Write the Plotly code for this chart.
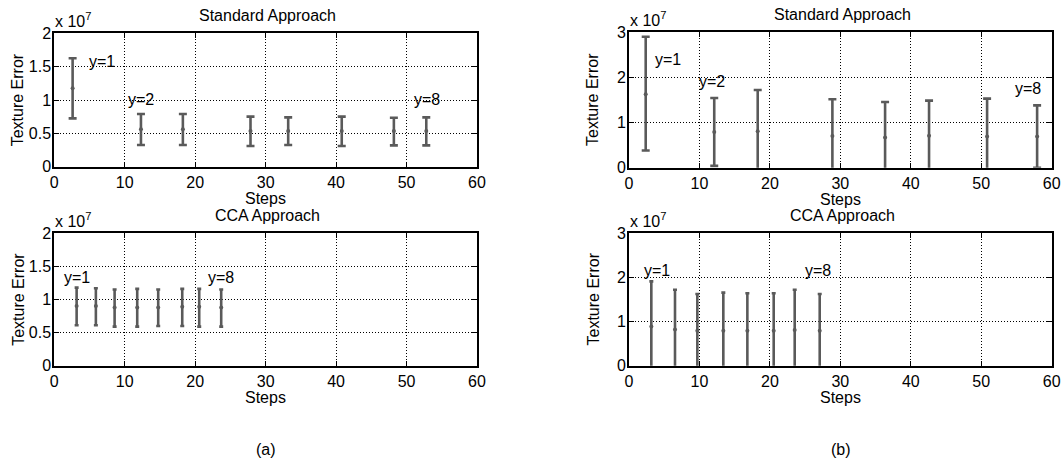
import plotly.graph_objects as go

W, H = 1061, 463
FONT = "Liberation Sans, Arial, sans-serif"

# ---------------- data (values in units of 1e7) ----------------
# (a) Standard approach
a_std_steps = [2.6, 12.3, 18.25, 27.85, 33.2, 40.8, 48.2, 52.8]
a_std_mean = [1.175, 0.56, 0.56, 0.535, 0.535, 0.535, 0.535, 0.535]
a_std_upper = [1.625, 0.79, 0.79, 0.75, 0.74, 0.75, 0.735, 0.74]
a_std_lower = [0.725, 0.325, 0.325, 0.31, 0.325, 0.31, 0.32, 0.32]

# (a) CCA approach
a_cca_steps = [3.17, 5.9, 8.56, 11.77, 14.75, 18.16, 20.57, 23.69]
a_cca_mean = [0.90, 0.90, 0.88, 0.88, 0.88, 0.89, 0.89, 0.88]
a_cca_upper = [1.18, 1.17, 1.15, 1.16, 1.15, 1.16, 1.16, 1.15]
a_cca_lower = [0.61, 0.61, 0.59, 0.59, 0.60, 0.60, 0.59, 0.59]

# (b) Standard approach
b_std_steps = [2.37, 12.1, 18.27, 28.87, 36.35, 42.59, 50.83, 57.93]
b_std_mean = [1.63, 0.79, 0.81, 0.70, 0.67, 0.71, 0.69, 0.69]
b_std_upper = [2.90, 1.545, 1.72, 1.515, 1.456, 1.486, 1.53, 1.38]
b_std_lower = [0.38, 0.04, -0.10, -0.12, -0.12, -0.07, -0.15, 0.0]

# (b) CCA approach
b_cca_steps = [3.17, 6.53, 9.70, 13.39, 16.8, 20.54, 23.52, 27.07]
b_cca_mean = [0.89, 0.82, 0.79, 0.79, 0.79, 0.79, 0.81, 0.79]
b_cca_upper = [1.91, 1.72, 1.625, 1.655, 1.64, 1.64, 1.72, 1.625]
b_cca_lower = [-0.13, -0.08, -0.05, -0.08, -0.06, -0.06, -0.10, -0.05]

# labels
a_std_labels = [("y=1", 6.7, 1.575), ("y=2", 12.3, 1.01), ("y=8", 52.9, 1.01)]
a_cca_labels = [("y=1", 3.26, 1.335), ("y=8", 23.7, 1.335)]
b_std_labels = [("y=1", 5.54, 2.39), ("y=2", 11.83, 1.91), ("y=8", 56.7, 1.76)]
b_cca_labels = [("y=1", 3.93, 2.15), ("y=8", 26.8, 2.15)]

x_ticks = [0, 10, 20, 30, 40, 50, 60]
a_y_ticks = [0, 0.5, 1, 1.5, 2]
a_y_text = ["0", "0.5", "1", "1.5", "2"]
b_y_ticks = [0, 1, 2, 3]
b_y_text = ["0", "1", "2", "3"]

titles = ["Standard Approach", "CCA Approach"]
x_title = "Steps"
y_title = "Texture Error"
panel_labels = ["(a)", "(b)"]

# ---------------- layout helpers ----------------
def px_x(p):
    return p / W

def px_y(p):
    return 1 - p / H

# panel pixel boxes: (left, right, top, bottom)
boxes = {
    1: (54.3, 477.0, 33.3, 166.7),   # a std
    2: (54.3, 477.0, 233.3, 365.7),  # a cca
    3: (629.0, 1051.7, 32.3, 167.7), # b std
    4: (629.0, 1051.7, 233.3, 365.7) # b cca
}

panels = [
    (1, a_std_steps, a_std_mean, a_std_upper, a_std_lower, a_std_labels, a_y_ticks, a_y_text, 2, 4),
    (2, a_cca_steps, a_cca_mean, a_cca_upper, a_cca_lower, a_cca_labels, a_y_ticks, a_y_text, 2, 2),
    (3, b_std_steps, b_std_mean, b_std_upper, b_std_lower, b_std_labels, b_y_ticks, b_y_text, 3, 4),
    (4, b_cca_steps, b_cca_mean, b_cca_upper, b_cca_lower, b_cca_labels, b_y_ticks, b_y_text, 3, 2),
]

fig = go.Figure()
annotations = []
layout = {}
BAR = "#5a5a5a"
TXT = dict(family=FONT, size=16, color="black")


def ann(text, x, y, xref="paper", yref="paper", xanchor="center", yanchor="middle", **kw):
    annotations.append(dict(text=text, x=x, y=y, xref=xref, yref=yref, xanchor=xanchor,
                            yanchor=yanchor, showarrow=False, font=TXT, borderpad=0, **kw))


for idx, steps, mean, upper, lower, labels, yt, ytt, ymax, capw in panels:
    sfx = "" if idx == 1 else str(idx)
    l, r, t, b = boxes[idx]
    fig.add_trace(go.Scatter(
        x=steps, y=mean, mode="markers",
        marker=dict(size=4, color=BAR),
        error_y=dict(type="data", symmetric=False,
                     array=[u - m for u, m in zip(upper, mean)],
                     arrayminus=[m - lo for m, lo in zip(mean, lower)],
                     color=BAR, thickness=2.6, width=capw),
        xaxis="x" + sfx, yaxis="y" + sfx, showlegend=False, hoverinfo="skip",
    ))
    axis_common = dict(
        automargin=False,
        showline=True, linecolor="black", linewidth=2, mirror="ticks",
        ticks="inside", ticklen=5, tickwidth=1, tickcolor="black",
        showgrid=True, gridcolor="black", griddash="1px,2px", gridwidth=1,
        zeroline=False, tickfont=TXT,
    )
    layout["xaxis" + sfx] = dict(axis_common, domain=[px_x(l), px_x(r)], range=[0, 60],
                                 tickvals=x_ticks, anchor="y" + sfx, ticklabelstandoff=0)
    layout["yaxis" + sfx] = dict(axis_common, domain=[px_y(b), px_y(t)], range=[0, ymax],
                                 tickvals=yt, ticktext=ytt, anchor="x" + sfx, ticklabelstandoff=-2)
    for txt, xx, yy in labels:
        ann(txt, xx, yy, xref="x" + sfx, yref="y" + sfx)
    cx = (l + r) / 2
    ann(titles[0] if idx in (1, 3) else titles[1], px_x(cx + 2), px_y(t - 18))
    ann(x_title, px_x(cx), px_y(b + 32))
    ann(y_title, px_x(l - 36), px_y((t + b) / 2), textangle=-90)
    ann("x 10<sup>7</sup>", px_x(l), px_y(t - 2), xanchor="left", yanchor="bottom")

ann(panel_labels[0], px_x(265.5), px_y(449))
ann(panel_labels[1], px_x(841), px_y(449))

fig.update_layout(
    template="none",
    width=W, height=H, margin=dict(l=0, r=0, t=0, b=0, autoexpand=False),
    paper_bgcolor="white", plot_bgcolor="white",
    annotations=annotations, showlegend=False,
    font=TXT,
    **layout,
)

fig.write_html(
    "out.html",
    config={"displayModeBar": False},
    post_script="document.body.style.margin='0';document.body.style.padding='0';"
                "document.body.style.overflow='hidden';",
)
